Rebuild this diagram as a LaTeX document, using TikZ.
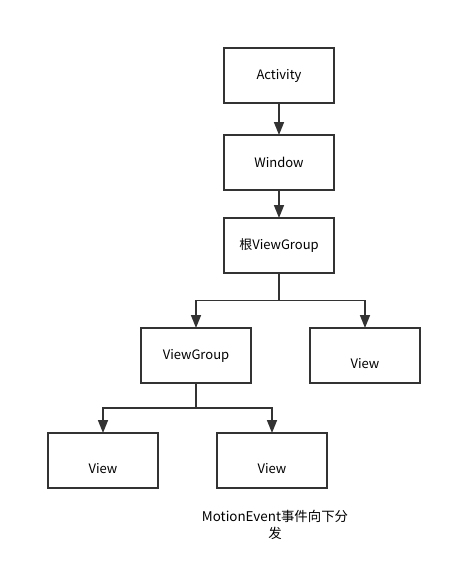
\documentclass[tikz,border=0pt]{standalone}
\usepackage{fontspec}
\setmainfont{Noto Sans CJK SC}
\usetikzlibrary{positioning,arrows.meta,calc}
\definecolor{linegray}{HTML}{333333}
\tikzset{
	flow/.style={>={Triangle[length=13pt,width=10pt]},line width=1.6pt,draw=linegray,
		font=\fontsize{13}{16}\selectfont},
	box/.style={rectangle,draw,minimum width=110pt,minimum height=55pt,inner sep=2pt,
		outer sep=0pt},
	lowtext/.style={text height=25pt,text depth=0pt},
	caption/.style={align=center,font=\fontsize{13.4}{16.5}\selectfont}
}

\begin{document}
\begin{tikzpicture}[flow,x=1pt,y=1pt]
	\useasboundingbox (0,0) rectangle (452,-576);
	
	\node[box] (act) at (279,-75.5) {Activity};
	\node[box] (win) [below=32pt of act] {Window};
	\node[box] (root) [below=28pt of win] {根ViewGroup};
	\node[box] (vg) [below=55pt of root, xshift=-83pt] {ViewGroup};
	\node[box, lowtext] (rview) [below=55pt of root, xshift=86pt] {View};
	\node[box, lowtext] (lview) [below=50pt of vg, xshift=-93pt] {View};
	\node[box, lowtext] (mview) [below=50pt of vg, xshift=76pt] {View};
	\node[caption] (note) at (275,-525) {MotionEvent事件向下分\\发};
	
	\draw[->] (act) -- (win);
	\draw[->] (win) -- (root);
	\draw[->] (root.south) -- ++(0,-27.5) -| (vg.north);
	\draw[->] (root.south) -- ++(0,-27.5) -| (rview.north);
	\draw[->] (vg.south) -- ++(0,-25) -| (lview.north);
	\draw[->] (vg.south) -- ++(0,-25) -| (mview.north);
	
\end{tikzpicture}
\end{document}
